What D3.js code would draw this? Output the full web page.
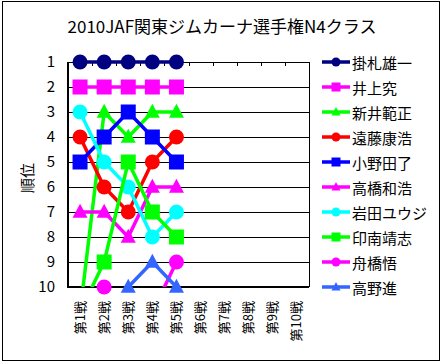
<!DOCTYPE html>
<html>
<head>
<meta charset="utf-8">
<script src="https://cdn.jsdelivr.net/npm/d3@7/dist/d3.min.js"></script>
<style>
  body { margin: 0; background: #fff; }
  text { font-family: "Noto Sans CJK JP", sans-serif; fill: #000; }
</style>
</head>
<body>
<div class="canvas"></div>
<script>
// data
const rounds = ['第1戦', '第2戦', '第3戦', '第4戦', '第5戦', '第6戦', '第7戦', '第8戦', '第9戦', '第10戦'];
const rankTicks = [1, 2, 3, 4, 5, 6, 7, 8, 9, 10];
const drivers = ['掛札雄一', '井上究', '新井範正', '遠藤康浩', '小野田了', '高橋和浩', '岩田ユウジ', '印南靖志', '舟橋悟', '高野進'];
const colors = ['#000080', '#ff00ff', '#00ff00', '#ff0000', '#0000ff', '#ff00ff', '#00ffff', '#00ff00', '#ff00ff', '#3366ff'];
const shapes = ['circle', 'square', 'triangle', 'circle', 'square', 'triangle', 'circle', 'square', 'circle', 'triangle'];

// ranks per round (null = no result / not shown)
const kakefuda = [1, 1, 1, 1, 1];
const inoue = [2, 2, 2, 2, 2];
const arai = [11, 3, 4, 3, 3];
const endo = [4, 6, 7, 5, 4];
const onoda = [5, 4, 3, 4, 5];
const takahashi = [7, 7, 8, 6, 6];
const iwata = [3, 5, 6, 8, 7];
const innami = [11, 9, 5, 7, 8];
const funahashi = [null, 10, null, 11, 9];
const takano = [null, null, 10, 9, 10];

const ranks = [kakefuda, inoue, arai, endo, onoda, takahashi, iwata, innami, funahashi, takano];

const margin = { top: 62, right: 136, bottom: 77, left: 68 };
const graphWidth = 445 - margin.left - margin.right;
const graphHeight = 364 - margin.top - margin.bottom;

const svg = d3.select('.canvas')
    .append('svg')
    .attr('width', 445)
    .attr('height', 364);

// outer border
svg.append('rect')
    .attr('x', 2.5).attr('y', 1.5)
    .attr('width', 437).attr('height', 359)
    .attr('fill', '#fff')
    .attr('stroke', '#000');

// title
svg.append('text')
    .attr('x', 222).attr('y', 33)
    .attr('text-anchor', 'middle')
    .style('font-size', '17px')
    .text('2010JAF関東ジムカーナ選手権N4クラス');

const graph = svg.append('g')
    .attr('transform', `translate(${margin.left},${margin.top})`);

// scales
const x = d3.scaleBand().domain(rounds).range([0, graphWidth]);
const y = d3.scaleLinear().domain([1, 10]).range([0, graphHeight]);

// gridlines + rank labels
const yAxis = d3.axisLeft(y)
    .tickValues(rankTicks)
    .tickSize(-graphWidth)
    .tickPadding(13)
    .tickFormat(d => d);
const yAxisGroup = graph.append('g').call(yAxis);
yAxisGroup.select('.domain').remove();
yAxisGroup.selectAll('line').attr('stroke', '#000').attr('shape-rendering', 'crispEdges');
yAxisGroup.selectAll('text')
    .attr('fill', '#000')
    .style('font-size', '15px')
    .style('font-family', '"Noto Sans CJK JP", sans-serif');

// right border of plot
graph.append('line')
    .attr('x1', graphWidth + 0.5).attr('x2', graphWidth + 0.5)
    .attr('y1', 0).attr('y2', graphHeight)
    .attr('stroke', '#000');

// category ticks on the top line
graph.selectAll('.xtick')
    .data(rounds.slice(1))
    .enter().append('line')
    .attr('class', 'xtick')
    .attr('x1', d => Math.round(x(d)) + 0.5)
    .attr('x2', d => Math.round(x(d)) + 0.5)
    .attr('y1', 0).attr('y2', 4)
    .attr('stroke', '#000');

// left axis and bottom line, heavier
graph.append('line')
    .attr('x1', 0).attr('x2', 0)
    .attr('y1', 0).attr('y2', graphHeight + 1)
    .attr('stroke', '#000').attr('stroke-width', 2);
graph.append('line')
    .attr('x1', 0).attr('x2', graphWidth)
    .attr('y1', graphHeight).attr('y2', graphHeight)
    .attr('stroke', '#000').attr('stroke-width', 2);

// round labels, rotated
graph.selectAll('.xlabel')
    .data(rounds)
    .enter().append('text')
    .attr('class', 'xlabel')
    .attr('transform', d => `translate(${x(d) + x.bandwidth() / 2 - 1},${graphHeight + 14}) rotate(-90)`)
    .attr('text-anchor', 'end')
    .attr('dominant-baseline', 'central')
    .style('font-size', '13px')
    .text(d => d);

// y title
svg.append('text')
    .attr('transform', 'translate(26,178) rotate(-90)')
    .attr('text-anchor', 'middle')
    .attr('dominant-baseline', 'central')
    .style('font-size', '15px')
    .text('順位');

// clip lines to the plot bottom
svg.append('defs').append('clipPath')
    .attr('id', 'plotclip')
    .append('rect')
    .attr('x', 0).attr('y', -20)
    .attr('width', graphWidth).attr('height', graphHeight + 20);

const cx = i => x(rounds[i]) + x.bandwidth() / 2;

const line = d3.line()
    .defined(d => d != null)
    .x((d, i) => cx(i))
    .y(d => y(d));

const marker = (sel, shape, color, s) => {
    if (shape === 'circle') {
        sel.append('circle').attr('r', s).attr('fill', color);
    } else if (shape === 'square') {
        sel.append('rect')
            .attr('x', -s).attr('y', -s)
            .attr('width', s * 2).attr('height', s * 2)
            .attr('fill', color);
    } else {
        sel.append('path')
            .attr('d', `M0,${-s * 1.1}L${s},${s * 0.75}L${-s},${s * 0.75}Z`)
            .attr('fill', color);
    }
};

ranks.forEach((series, k) => {
    const g = graph.append('g');
    g.append('path')
        .datum(series)
        .attr('clip-path', 'url(#plotclip)')
        .attr('fill', 'none')
        .attr('stroke', colors[k])
        .attr('stroke-width', 3.5)
        .attr('d', line);
    series.forEach((v, i) => {
        if (v == null || v > 10) return;
        const m = g.append('g').attr('transform', `translate(${cx(i)},${y(v)})`);
        marker(m, shapes[k], colors[k], 7.5);
    });
});

// legend
const legend = svg.append('g')
    .attr('transform', `translate(322,${margin.top})`);

drivers.forEach((name, k) => {
    const row = legend.append('g').attr('transform', `translate(0,${y(k + 1)})`);
    row.append('line')
        .attr('x1', 0).attr('x2', 28)
        .attr('stroke', colors[k]).attr('stroke-width', 3.5);
    const m = row.append('g').attr('transform', 'translate(14,0)');
    marker(m, shapes[k], colors[k], 4.5);
    row.append('text')
        .attr('x', 30)
        .attr('dominant-baseline', 'central')
        .style('font-size', '15px')
        .text(name);
});
</script>
</body>
</html>
